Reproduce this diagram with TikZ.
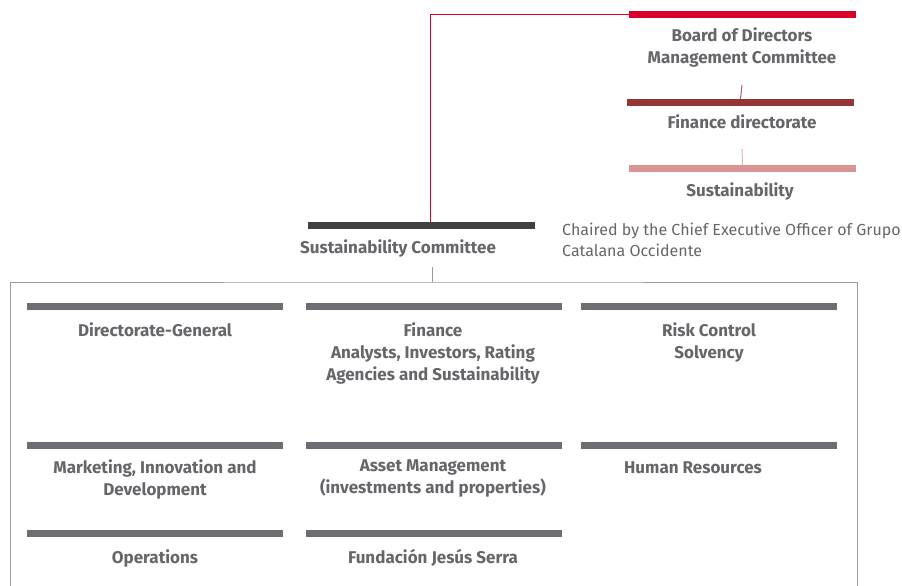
\documentclass[tikz,border=0pt]{standalone}
\usepackage{fontspec}
\setmainfont{Fira Sans}
\definecolor{boardred}{HTML}{D9002A}
\definecolor{finbrown}{HTML}{963535}
\definecolor{sustpink}{HTML}{D99595}
\definecolor{commdark}{HTML}{404040}
\definecolor{unitgray}{HTML}{6D6E71}
\definecolor{txtgray}{HTML}{65666A}
\definecolor{framegray}{HTML}{9A9A9A}

\def\leiste#1#2#3{\node[leiste,fill=#3] (#1) at #2 {};}
\def\strich#1#2#3{\draw[#3,line width=1pt] #1 -- #2;}

\begin{document}
\begin{tikzpicture}[x=1pt,y=-1pt,
  leiste/.style={inner sep=0pt,minimum width=256pt,minimum height=7pt,draw=none},
  lbl/.style={align=center,text=txtgray,font=\fontsize{17}{22}\selectfont\bfseries,inner sep=0pt},
  unit/.style={lbl,anchor=north,execute at begin node=\strut},
  note/.style={align=left,text=txtgray,font=\fontsize{16}{21}\selectfont,inner sep=0pt,anchor=west}]
\useasboundingbox (0,0) rectangle (902,586);
% top of the chart
\node[leiste,fill=boardred,minimum width=227pt] (B0) at (742.5,14.5) {};
\node[leiste,fill=finbrown,minimum width=227pt] (F0) at (740.5,102.5) {};
\node[leiste,fill=sustpink,minimum width=227pt] (S0) at (742.5,168.5) {};
\node[leiste,fill=commdark,minimum width=227pt] (C0) at (421.5,225.5) {};
\node[lbl] (B1) at (742,47.5) {Board of Directors\\Management Committee};
\node[lbl] (F1) at (742,122) {Finance directorate};
\node[lbl] (S1) at (740,191) {Sustainability};
\node[lbl] (C1) at (398,248.5) {Sustainability Committee};
\node[note] (N1) at (562,240) {Chaired by the Chief Executive Officer of Grupo\\Catalana Occidente};
\coordinate (K0) at (430,222);
\coordinate (K1) at (742,85);
\coordinate (K2) at (742,149);
\coordinate (K3) at (432,267);
\coordinate (K4) at (432,282);
\draw[boardred,line width=1pt] (B0.west) -| (K0);
\strich{(K1)}{(F0.north)}{finbrown!80}
\strich{(K2)}{(S0.north)}{sustpink!70}
\strich{(K3)}{(K4)}{framegray}
% frame round the units
\draw[framegray,line width=1pt] (10,590) |- (K4) -| (857,590);
% units
\leiste{U1}{(155,306.5)}{unitgray}
\leiste{U2}{(434,306.5)}{unitgray}
\leiste{U3}{(709,306.5)}{unitgray}
\leiste{U4}{(155,445.5)}{unitgray}
\leiste{U5}{(434,445.5)}{unitgray}
\leiste{U6}{(709,445.5)}{unitgray}
\leiste{U7}{(155,533.5)}{unitgray}
\leiste{U8}{(434,533.5)}{unitgray}
\node[unit] (T1) at (155,320.5) {Directorate-General};
\node[unit] (T2) at (433,322.5) {Finance\\Analysts, Investors, Rating\\Agencies and Sustainability};
\node[unit] (T3) at (709,322.5) {Risk Control\\Solvency};
\node[unit] (T4) at (155,459.5) {Marketing, Innovation and\\Development};
\node[unit] (T5) at (433,459.5) {Asset Management\\(investments and properties)};
\node[unit] (T6) at (693,457.5) {Human Resources};
\node[unit] (T7) at (155,547.5) {Operations};
\node[unit] (T8) at (433,547.5) {Fundación Jesús Serra};
\end{tikzpicture}
\end{document}
